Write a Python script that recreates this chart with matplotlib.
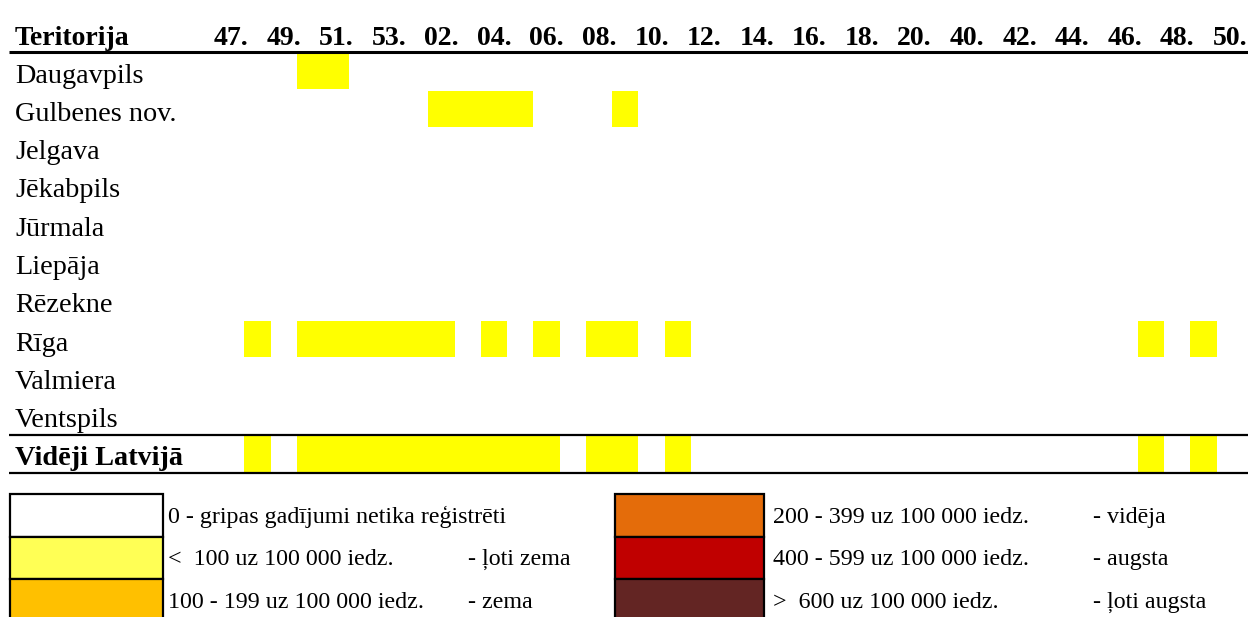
import matplotlib
matplotlib.use('Agg')
import matplotlib.pyplot as plt
from matplotlib.patches import Rectangle

plt.rcParams['font.family'] = ['Liberation Serif', 'DejaVu Serif']

# week columns: 47..53, 01..20, one unlabeled column, 40..50
weeks = list(range(47, 54)) + list(range(1, 21)) + [21] + list(range(40, 51))

territories = ['Daugavpils', 'Gulbenes nov.', 'Jelgava', 'Jēkabpils', 'Jūrmala',
               'Liepāja', 'Rēzekne', 'Rīga', 'Valmiera', 'Ventspils', 'Vidēji Latvijā']

# intensity level per week: 0 = none, 1 = < 100 uz 100 000
daugavpils = [0,0,0,1,1,0,0,0,0,0,0,0,0,0,0,0,0,0,0,0,0,0,0,0,0,0,0,0,0,0,0,0,0,0,0,0,0,0,0]
gulbenes   = [0,0,0,0,0,0,0,0,1,1,1,1,0,0,0,1,0,0,0,0,0,0,0,0,0,0,0,0,0,0,0,0,0,0,0,0,0,0,0]
jelgava    = [0]*39
jekabpils  = [0]*39
jurmala    = [0]*39
liepaja    = [0]*39
rezekne    = [0]*39
riga       = [0,1,0,1,1,1,1,1,1,0,1,0,1,0,1,1,0,1,0,0,0,0,0,0,0,0,0,0,0,0,0,0,0,0,0,1,0,1,0]
valmiera   = [0]*39
ventspils  = [0]*39
latvija    = [0,1,0,1,1,1,1,1,1,1,1,1,1,0,1,1,0,1,0,0,0,0,0,0,0,0,0,0,0,0,0,0,0,0,0,1,0,1,0]

levels = [daugavpils, gulbenes, jelgava, jekabpils, jurmala, liepaja,
          rezekne, riga, valmiera, ventspils, latvija]

cell_colors = ['white', '#FFFF00', '#FFC000', '#E46C0A', '#C00000', '#632523']

legend_colors = ['white', '#FFFF55', '#FFC000', '#E46C0A', '#C00000', '#632523']
legend_texts = ['0 - gripas gadījumi netika reģistrēti',
                '<  100 uz 100 000 iedz.',
                '100 - 199 uz 100 000 iedz.',
                '200 - 399 uz 100 000 iedz.',
                '400 - 599 uz 100 000 iedz.',
                '>  600 uz 100 000 iedz.']
legend_grades = ['', '- ļoti zema', '- zema', '- vidēja', '- augsta', '- ļoti augsta']

W, H = 1248, 617
fig = plt.figure(figsize=(W / 100, H / 100), dpi=100)

# table axes: one unit per week column / territory row
cw, x0 = 26.28, 218.0
rh, y0 = 38.27, 52.0
ax = fig.add_axes([0, 0, 1, 1])
ax.set_xlim(-x0 / cw - 0.5, (W - x0) / cw - 0.5)
ax.set_ylim((H - y0) / rh - 0.5, -y0 / rh - 0.5)
ax.axis('off')

def px_x(p):
    return (p - x0) / cw - 0.5

for i, row in enumerate(levels):
    for c, lev in enumerate(row):
        if lev > 0:
            ax.bar(c, 0.94, bottom=i - 0.47, width=1.0, color=cell_colors[lev],
                   linewidth=0, zorder=1)

for i, name in enumerate(territories):
    bold = name == 'Vidēji Latvijā'
    ax.text(px_x(15), i + 0.3, name, fontsize=20.3, va='baseline',
            fontweight='bold' if bold else 'normal')

ax.text(px_x(15), -0.68, 'Teritorija', fontsize=20, fontweight='bold', va='baseline')
for c in range(0, len(weeks), 2):
    ax.text(c, -0.68, '%02d.' % weeks[c], fontsize=20, fontweight='bold',
            ha='center', va='baseline')

ax.hlines(-0.5, px_x(9), px_x(W), color='black', linewidth=2.2, zorder=3)
n = len(territories)
ax.hlines([n - 1.5, n - 0.5], px_x(9), px_x(W), color='black', linewidth=1.6, zorder=3)

# legend in pixel coordinates
lg = fig.add_axes([0, 0, 1, 1])
lg.set_xlim(0, W)
lg.set_ylim(H, 0)
lg.axis('off')
lg.patch.set_visible(False)

box_x = [10, 615]
box_w = [153, 149]
text_x = [168, 773]
grade_x = [468, 1093]
top, step = 494, 42.5
for k in range(6):
    col, r = divmod(k, 3)
    y = top + r * step
    lg.add_patch(Rectangle((box_x[col], y), box_w[col], step,
                           facecolor=legend_colors[k], edgecolor='black', linewidth=1.6))
    lg.text(text_x[col], y + step / 2 + 2, legend_texts[k], fontsize=17.3, va='center')
    if legend_grades[k]:
        lg.text(grade_x[col], y + step / 2 + 2, legend_grades[k], fontsize=17.3, va='center')

fig.savefig('out.png', dpi=100)
